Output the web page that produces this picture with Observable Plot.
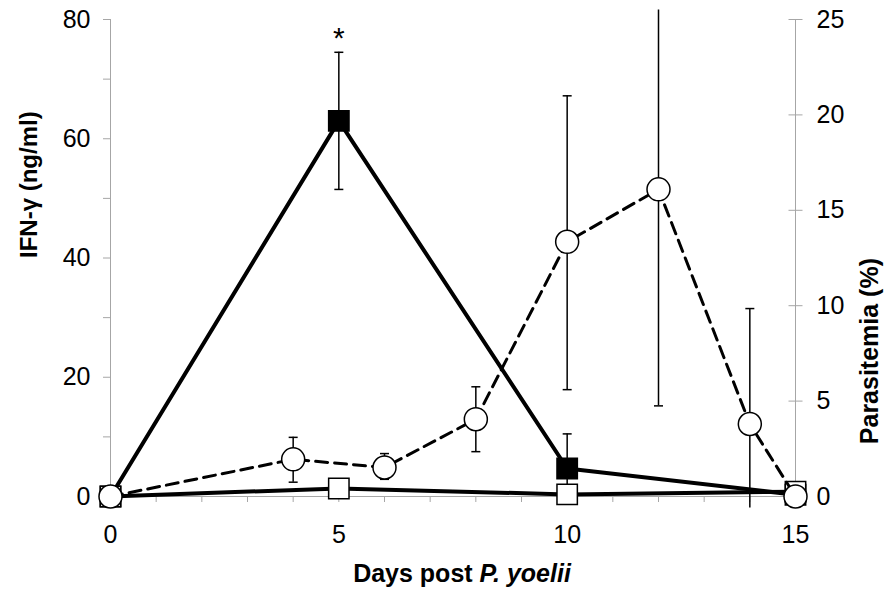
<!DOCTYPE html>
<html><head><meta charset="utf-8">
<script src="https://cdn.jsdelivr.net/npm/d3@7"></script>
<script src="https://cdn.jsdelivr.net/npm/@observablehq/plot@0.6"></script>
<style>body{margin:0;background:#fff} svg{display:block}</style>
</head><body><div id="chart"></div>
<script>
// IFN-gamma (ng/ml), left axis
const ifnDays = [0, 5, 10, 15];
const ifnInfected = [0, 63, 4.7, 0.3];      // filled squares
const ifnInfectedErr = [0, 11.5, 5.8, 0];
const ifnControl = [0, 1.35, 0.35, 0.8];    // open squares
// Parasitemia (%), right axis
const parDays = [0, 4, 6, 8, 10, 12, 14, 15];
const parMean = [0, 1.95, 1.52, 4.05, 13.35, 16.1, 3.8, 0];
const parLow  = [0, 0.75, 0.9, 2.35, 5.6, 4.75, -0.6, 0];
const parHigh = [0, 3.1, 2.25, 5.75, 21.0, 25.5, 9.85, 0];
// ticks
const xMinorTicks = d3.range(0, 16, 1);
const xLabelTicks = [0, 5, 10, 15];
const yLeftMinor = d3.range(0, 81, 10);
const yLeftLabels = [0, 20, 40, 60, 80];
const yRightTicks = [0, 5, 10, 15, 20, 25];
const parMax = 25, ifnMax = 80;
const k = ifnMax / parMax;

const font = "'Liberation Sans', Arial, sans-serif";
const axisGray = "#a6a6a6";
const hline = {draw(ctx, size) { const r = Math.sqrt(size / Math.PI); ctx.moveTo(-r, 0); ctx.lineTo(r, 0); }};

const infected = ifnDays.map((d, i) => ({day: d, v: ifnInfected[i], lo: ifnInfected[i] - ifnInfectedErr[i], hi: ifnInfected[i] + ifnInfectedErr[i], e: ifnInfectedErr[i]}));
const control = ifnDays.map((d, i) => ({day: d, v: ifnControl[i]}));
const par = parDays.map((d, i) => ({day: d, v: parMean[i] * k, lo: parLow[i] * k, hi: parHigh[i] * k, lo0: parLow[i], hi0: parHigh[i]}));
const parErr = par.filter(d => d.hi > d.lo);
const parCaps = [];
parErr.forEach(d => {
  if (d.hi0 <= parMax) parCaps.push({day: d.day, y: d.hi});
  if (d.lo0 >= 0) parCaps.push({day: d.day, y: d.lo});
});
const infErr = infected.filter(d => d.e > 0);
const infCaps = infErr.flatMap(d => [{day: d.day, y: d.hi}, {day: d.day, y: d.lo}]);

const chart = Plot.plot({
  width: 894, height: 598,
  marginTop: 19, marginBottom: 102, marginLeft: 110, marginRight: 99,
  style: {fontFamily: font, background: "white", overflow: "visible"},
  x: {domain: [0, 15], label: null},
  y: {domain: [0, ifnMax], label: null},
  marks: [
    // axis lines
    Plot.ruleY([0], {stroke: axisGray, strokeWidth: 1}),
    Plot.ruleX([0], {stroke: axisGray, strokeWidth: 1}),
    Plot.ruleX([15], {stroke: axisGray, strokeWidth: 1}),
    // x ticks
    Plot.axisX(xMinorTicks, {tickSize: 6, tickFormat: () => "", stroke: axisGray}),
    Plot.axisX(xLabelTicks, {tickSize: 0, tickPadding: 29, fontSize: 25, fill: "black"}),
    // left y ticks
    Plot.axisY(yLeftMinor, {anchor: "left", tickSize: 7, tickFormat: () => "", stroke: axisGray}),
    Plot.axisY(yLeftLabels, {anchor: "left", tickSize: 0, tickPadding: 20, fontSize: 25, fill: "black"}),
    // right y ticks (parasitemia)
    Plot.dot(yRightTicks, {x: () => 15, y: d => d * k, symbol: hline, r: 7, stroke: axisGray, strokeWidth: 1}),
    Plot.text(yRightTicks, {x: () => 15, y: d => d * k, text: d => String(d), textAnchor: "start", dx: 21, fontSize: 25}),
    // axis titles
    Plot.text(["IFN-\u03b3 (ng/ml)"], {frameAnchor: "left", rotate: -90, dx: -81, fontSize: 24, fontWeight: "bold"}),
    Plot.text(["Parasitemia (%)"], {frameAnchor: "right", rotate: -90, dx: 74, fontSize: 25, fontWeight: "bold"}),
    // IFN lines
    Plot.line(infected, {x: "day", y: "v", stroke: "black", strokeWidth: 4}),
    Plot.line(control, {x: "day", y: "v", stroke: "black", strokeWidth: 4}),
    // IFN error bars
    Plot.ruleX(infErr, {x: "day", y1: "lo", y2: "hi", stroke: "black", strokeWidth: 1.5}),
    Plot.dot(infCaps, {x: "day", y: "y", symbol: hline, r: 4.5, stroke: "black", strokeWidth: 1.5}),
    // IFN markers
    Plot.dot(infected, {x: "day", y: "v", symbol: "square", r: 11.5, fill: "black", stroke: "black"}),
    Plot.dot(control, {x: "day", y: "v", symbol: "square", r: 11.5, fill: "white", stroke: "black", strokeWidth: 1.5}),
    // significance marker
    Plot.text(infected.filter(d => d.day === 5), {x: "day", y: "hi", text: () => "*", dy: -14, fontSize: 30}),
    // parasitemia
    Plot.line(par, {x: "day", y: "v", stroke: "black", strokeWidth: 3, strokeDasharray: "12,7"}),
    Plot.ruleX(parErr, {x: "day", y1: "lo", y2: "hi", stroke: "black", strokeWidth: 1.5}),
    Plot.dot(parCaps, {x: "day", y: "y", symbol: hline, r: 4.5, stroke: "black", strokeWidth: 1.5}),
    Plot.dot(par, {x: "day", y: "v", r: 11.5, fill: "white", stroke: "black", strokeWidth: 1.5})
  ]
});

// x axis title with italic species name
const svg = d3.select(chart);
const t = svg.append("text")
  .attr("x", 462).attr("y", 582)
  .attr("text-anchor", "middle")
  .attr("font-family", font)
  .attr("font-size", 25)
  .attr("font-weight", "bold")
  .attr("fill", "black");
t.append("tspan").text("Days post ");
t.append("tspan").attr("font-style", "italic").text("P. yoelii");

document.getElementById("chart").appendChild(chart);
</script>
</body></html>
